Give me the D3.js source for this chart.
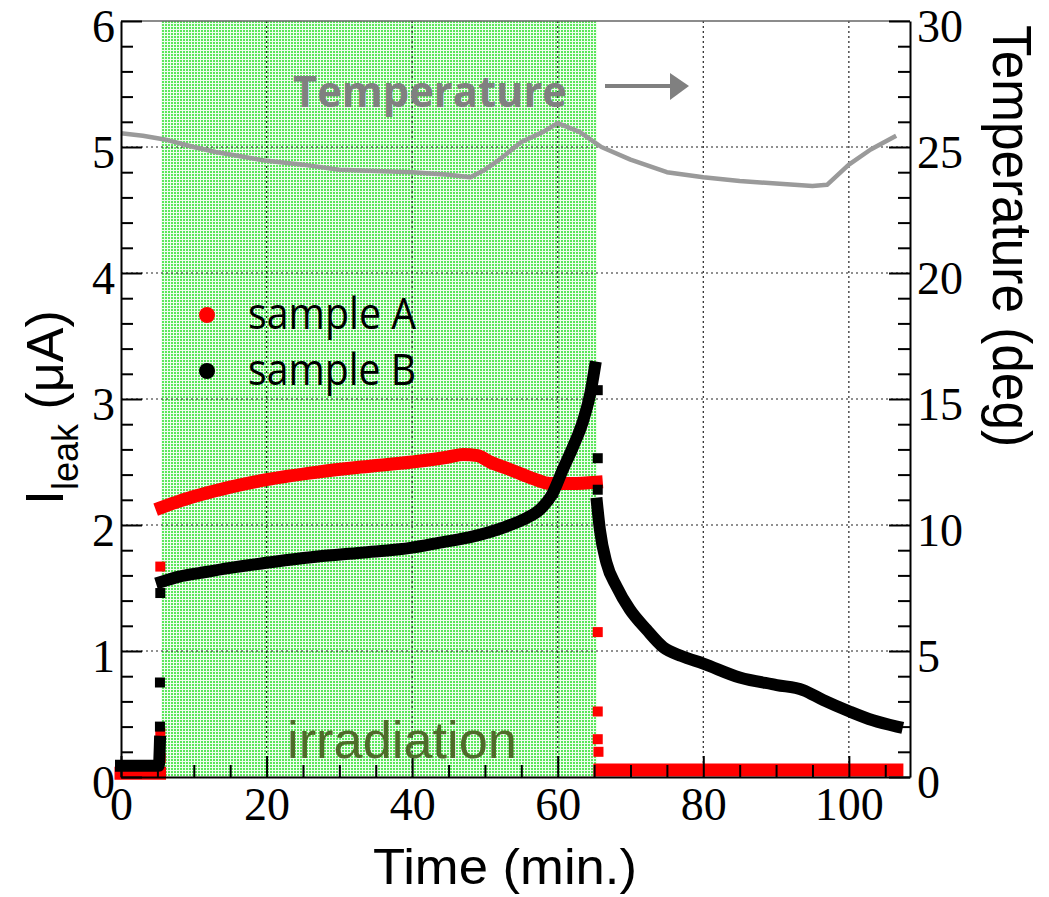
<!DOCTYPE html>
<html>
<head>
<meta charset="utf-8">
<script src="https://cdn.jsdelivr.net/npm/d3@7"></script>
<style>
  body { margin: 0; background: #fff; }
  svg { display: block; }
</style>
</head>
<body>
<div id="viz"></div>
<script>
// values

// sample A (red), band segments: NaN = break
var aTime = [0, 5.3, NaN, 5.6, 8, 10.9, 15, 20, 27, 33, 40, 45, 47, 49, 50.7, 53, 55.2, 57, 58.9, 62, 65.3, NaN, 65.8, 106.6];
var aCurr = [0.03, 0.03, NaN, 2.14, 2.19, 2.24, 2.30, 2.36, 2.42, 2.46, 2.50, 2.54, 2.56, 2.55, 2.50, 2.45, 2.40, 2.36, 2.33, 2.33, 2.34, NaN, 0.055, 0.055];
// isolated red points on the jumps
var aJumpTime = [5.4, 5.45, 5.4, 65.5, 65.5, 65.5, 65.6];
var aJumpCurr = [0.35, 0.15, 1.67, 1.15, 0.52, 0.30, 0.2];

// sample B (black)
var bTime = [0, 5.2, 5.35, NaN, 5.6, 8, 10.9, 15, 20, 27, 33, 40, 43.8, 48.4, 53, 55.5, 57.5, 59.3, 60.7, 62.1, 63.5, 64.5, 65.1, NaN,
             65.4, 65.8, 66.7, 68.1, 69.9, 72.2, 74.5, 77, 80, 85, 90.1, 93.7, 96.5, 100.1, 103.3, 106.6];
var bCurr = [0.09, 0.09, 0.28, NaN, 1.55, 1.59, 1.62, 1.66, 1.70, 1.75, 1.78, 1.82, 1.86, 1.91, 1.99, 2.05, 2.12, 2.25, 2.44, 2.62, 2.83, 3.05, 3.25, NaN,
             2.17, 1.96, 1.70, 1.51, 1.33, 1.17, 1.03, 0.96, 0.90, 0.79, 0.73, 0.69, 0.61, 0.52, 0.45, 0.40];
var bJumpTime = [5.35, 5.35, 5.4, 65.5, 65.5, 65.5];
var bJumpCurr = [0.40, 0.75, 1.46, 3.07, 2.53, 2.28];

// temperature (right axis)
var tTime = [0, 3, 6, 10, 13, 17, 20, 25, 30, 35, 40, 45, 48, 50, 52, 55, 58, 60, 63, 66, 70, 75, 80, 85, 90, 95, 97, 100, 103, 106.5];
var tDeg  = [25.55, 25.45, 25.3, 25.0, 24.8, 24.6, 24.45, 24.3, 24.1, 24.05, 24.0, 23.9, 23.8, 24.1, 24.5, 25.2, 25.6, 25.95, 25.6, 25.0, 24.5, 24.0, 23.8, 23.65, 23.55, 23.45, 23.5, 24.3, 24.9, 25.45];

// irradiation window (min.)
var irrStart = 5.5, irrEnd = 65.4;

var xTicks = [0, 20, 40, 60, 80, 100];
var yTicks = [0, 1, 2, 3, 4, 5, 6];
var tTicks = [0, 5, 10, 15, 20, 25, 30];

var W = 1049, H = 897;
var pl = 121, pr = 910, pt = 21, pb = 777;

var x = d3.scaleLinear().domain([0, 108.4]).range([pl, pr]);
var y = d3.scaleLinear().domain([0, 6]).range([pb, pt]);
var yT = d3.scaleLinear().domain([0, 30]).range([pb, pt]);

var svg = d3.select('#viz').append('svg')
  .attr('width', W)
  .attr('height', H);

// dotted green fill
var defs = svg.append('defs');
var pat = defs.append('pattern')
  .attr('id', 'greenDots')
  .attr('patternUnits', 'userSpaceOnUse')
  .attr('width', 3).attr('height', 3);
pat.append('rect').attr('width', 3).attr('height', 3).attr('fill', '#effdef');
pat.append('rect').attr('width', 2).attr('height', 2).attr('fill', '#5ae65a');

svg.append('rect')
  .attr('x', x(irrStart))
  .attr('y', pt)
  .attr('width', x(irrEnd) - x(irrStart))
  .attr('height', pb - pt)
  .attr('fill', 'url(#greenDots)');

// grid
var grid = svg.append('g').attr('stroke', '#222').attr('stroke-width', 1.2).attr('stroke-dasharray', '2,3');
grid.selectAll('.vg').data(xTicks.slice(1)).enter().append('line')
  .attr('x1', d => x(d)).attr('x2', d => x(d))
  .attr('y1', pt).attr('y2', pb);
grid.selectAll('.hg').data(yTicks.slice(1, -1)).enter().append('line')
  .attr('x1', pl).attr('x2', pr)
  .attr('y1', d => y(d)).attr('y2', d => y(d));

// frame top
svg.append('line')
  .attr('x1', pl).attr('x2', pr)
  .attr('y1', pt).attr('y2', pt)
  .attr('stroke', '#666').attr('stroke-width', 1.5);

// temperature line
var tData = tTime.map((t, i) => [t, tDeg[i]]);
svg.append('path')
  .datum(tData)
  .attr('fill', 'none')
  .attr('stroke', '#9a9a9a')
  .attr('stroke-width', 4.5)
  .attr('stroke-linejoin', 'round')
  .attr('d', d3.line().x(d => x(d[0])).y(d => yT(d[1])));

// data bands
var band = d3.line()
  .defined(d => !isNaN(d[1]))
  .x(d => x(d[0])).y(d => y(d[1]))
  .curve(d3.curveMonotoneX);

var aData = aTime.map((t, i) => [t, aCurr[i]]);
var bData = bTime.map((t, i) => [t, bCurr[i]]);

svg.append('path').datum(aData)
  .attr('fill', 'none').attr('stroke', '#ff0000')
  .attr('stroke-width', 13).attr('stroke-linejoin', 'round').attr('stroke-linecap', 'square')
  .attr('d', band);

svg.selectAll('.aj').data(aJumpTime).enter().append('rect')
  .attr('x', (d, i) => x(d) - 5).attr('y', (d, i) => y(aJumpCurr[i]) - 5)
  .attr('width', 10).attr('height', 10)
  .attr('fill', '#ff0000');

svg.append('path').datum(bData)
  .attr('fill', 'none').attr('stroke', '#000')
  .attr('stroke-width', 12).attr('stroke-linejoin', 'round').attr('stroke-linecap', 'square')
  .attr('d', band);

svg.selectAll('.bj').data(bJumpTime).enter().append('rect')
  .attr('x', (d, i) => x(d) - 5).attr('y', (d, i) => y(bJumpCurr[i]) - 5)
  .attr('width', 10).attr('height', 10)
  .attr('fill', '#000');

// axes
var tickFont = '"Liberation Serif", "Times New Roman", serif';
function styleAxis(g) {
  g.select('.domain').attr('stroke', '#000').attr('stroke-width', 2);
  g.selectAll('.tick line').attr('stroke', '#000').attr('stroke-width', 2);
  g.selectAll('.tick text').attr('font-family', tickFont).attr('font-size', 46).attr('fill', '#000');
}

var xMinor = d3.range(0, 108, 5).filter(d => d % 20 != 0);
var yMinor = d3.range(0, 6, 0.2).filter(d => Math.abs(d - Math.round(d)) > 0.01);
var tMinor = d3.range(0, 30, 1).filter(d => d % 5 != 0);
var fmt = d3.format('d');

var xAxis = svg.append('g').attr('transform', 'translate(0,' + pb + ')')
  .call(d3.axisBottom(x).tickValues(xTicks).tickFormat(fmt).tickSize(-21).tickSizeOuter(0).tickPadding(10));
styleAxis(xAxis);
xAxis.selectAll('.tick text').attr('dy', '0.71em');
svg.append('g').attr('transform', 'translate(0,' + pb + ')')
  .call(d3.axisBottom(x).tickValues(xMinor).tickSize(-12).tickFormat(''))
  .call(g => { g.select('.domain').remove(); g.selectAll('.tick line').attr('stroke', '#000').attr('stroke-width', 2); });

var yAxis = svg.append('g').attr('transform', 'translate(' + pl + ',0)')
  .call(d3.axisLeft(y).tickValues(yTicks).tickFormat(fmt).tickSize(-21).tickSizeOuter(0).tickPadding(6));
styleAxis(yAxis);
yAxis.selectAll('.tick text').attr('dy', '0.45em');
svg.append('g').attr('transform', 'translate(' + pl + ',0)')
  .call(d3.axisLeft(y).tickValues(yMinor).tickSize(-12).tickFormat(''))
  .call(g => { g.select('.domain').remove(); g.selectAll('.tick line').attr('stroke', '#000').attr('stroke-width', 2); });

var tAxis = svg.append('g').attr('transform', 'translate(' + pr + ',0)')
  .call(d3.axisRight(yT).tickValues(tTicks).tickFormat(fmt).tickSize(-21).tickSizeOuter(0).tickPadding(7));
styleAxis(tAxis);
tAxis.selectAll('.tick text').attr('dy', '0.45em');
svg.append('g').attr('transform', 'translate(' + pr + ',0)')
  .call(d3.axisRight(yT).tickValues(tMinor).tickSize(-12).tickFormat(''))
  .call(g => { g.select('.domain').remove(); g.selectAll('.tick line').attr('stroke', '#000').attr('stroke-width', 2); });

// titles
var sans = '"Liberation Sans", Arial, sans-serif';
svg.append('text')
  .attr('x', 505).attr('y', 884)
  .attr('text-anchor', 'middle')
  .attr('font-family', sans).attr('font-size', 50)
  .attr('textLength', 264).attr('lengthAdjust', 'spacingAndGlyphs')
  .text('Time (min.)');

var yTitle = svg.append('text')
  .attr('transform', 'translate(63,505) rotate(-90)')
  .attr('font-family', sans).attr('font-size', 54);
yTitle.append('tspan').text('I');
yTitle.append('tspan').attr('font-size', 36).attr('dy', 15).text('leak');
yTitle.append('tspan').attr('font-size', 52).attr('dy', -15).text(' (μA)');

svg.append('text')
  .attr('transform', 'translate(993,25) rotate(90)')
  .attr('font-family', sans).attr('font-size', 56)
  .attr('textLength', 422).attr('lengthAdjust', 'spacingAndGlyphs')
  .text('Temperature (deg)');

// legend
var legend = svg.append('g');
var legCols = ['#ff0000', '#000'];
var legNames = ['sample A', 'sample B'];
legend.selectAll('circle').data(legNames).enter().append('circle')
  .attr('cx', 207).attr('cy', (d, i) => 315 + i * 56)
  .attr('r', 8)
  .attr('fill', (d, i) => legCols[i]);
legend.selectAll('text').data(legNames).enter().append('text')
  .attr('x', 248).attr('y', (d, i) => 329 + i * 56)
  .attr('font-family', '"Open Sans", "Noto Sans", sans-serif').attr('font-size', 44)
  .attr('textLength', 168).attr('lengthAdjust', 'spacingAndGlyphs')
  .text(d => d);

// annotations
svg.append('text')
  .attr('x', 287).attr('y', 758)
  .attr('font-family', sans).attr('font-size', 52)
  .attr('fill', '#4f6b2a')
  .attr('textLength', 230).attr('lengthAdjust', 'spacingAndGlyphs')
  .text('irradiation');

svg.append('text')
  .attr('x', 293).attr('y', 107)
  .attr('font-family', '"Open Sans", sans-serif').attr('font-weight', 'bold').attr('font-size', 43)
  .attr('fill', '#808080')
  .attr('textLength', 274).attr('lengthAdjust', 'spacingAndGlyphs')
  .text('Temperature');

svg.append('line')
  .attr('x1', 605).attr('x2', 672).attr('y1', 86).attr('y2', 86)
  .attr('stroke', '#808080').attr('stroke-width', 4);
svg.append('path')
  .attr('d', d3.line()([[670, 73], [689, 86], [670, 100]]))
  .attr('fill', '#808080');
</script>
</body>
</html>
